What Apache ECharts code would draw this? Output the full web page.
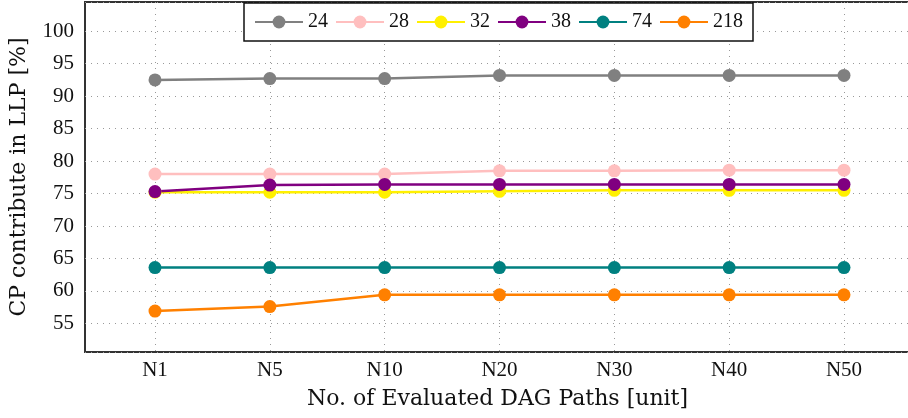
<!DOCTYPE html>
<html>
<head>
<meta charset="utf-8">
<script src="https://cdn.jsdelivr.net/npm/echarts@6/dist/echarts.min.js"></script>
<style>
  html, body { margin: 0; padding: 0; background: #fff; }
  #main { width: 908px; height: 418px; }
</style>
</head>
<body>
<div id="main"></div>
<script>
// x categories and series
const paths = ['N1', 'N5', 'N10', 'N20', 'N30', 'N40', 'N50'];
const seriesNames = ['24', '28', '32', '38', '74', '218'];
const colors = ['#808080', '#ffbfbf', '#fff000', '#800080', '#008080', '#ff8000'];
const s24 = [92.5, 92.7, 92.7, 93.2, 93.2, 93.2, 93.2];
const s28 = [78.0, 78.0, 78.0, 78.5, 78.5, 78.6, 78.6];
const s32 = [75.2, 75.2, 75.2, 75.35, 75.5, 75.5, 75.5];
const s38 = [75.3, 76.3, 76.4, 76.4, 76.4, 76.4, 76.4];
const s74 = [63.6, 63.6, 63.6, 63.6, 63.6, 63.6, 63.6];
const s218 = [56.9, 57.6, 59.4, 59.4, 59.4, 59.4, 59.4];
const values = [s24, s28, s32, s38, s74, s218];

const font = 'Liberation Serif';
const nameFont = 'DejaVu Serif';
const yMin = 50.6, yMax = 104.5;
const dotted = { type: [1, 5], color: '#999', width: 1 };
const chart = echarts.init(document.getElementById('main'));

const option = {
  animation: false,
  textStyle: { fontFamily: font },
  grid: [
    // frame grid: y axis, horizontal dotted lines and border
    { left: 85, right: -2, top: 2, bottom: 66, show: true, borderColor: '#333', borderWidth: 2,
      containLabel: false, outerBoundsMode: 'none' },
    // data grid: inset so the categories sit where they do in the picture
    { left: 155, right: 64, top: 2, bottom: 66, containLabel: false, outerBoundsMode: 'none' }
  ],
  legend: {
    data: seriesNames,
    left: 244, top: 3,
    padding: [9, 10, 9, 10],
    itemGap: 7,
    itemWidth: 48, itemHeight: 16,
    borderColor: '#111', borderWidth: 1.5,
    backgroundColor: '#fff',
    textStyle: { fontFamily: font, fontSize: 20, color: '#111' }
  },
  xAxis: [
    {
      gridIndex: 0, type: 'value', min: 0, max: 1,
      name: 'No. of Evaluated DAG Paths [unit]', nameLocation: 'middle', nameGap: 36,
      nameTextStyle: { fontFamily: nameFont, fontSize: 22, color: '#111' },
      axisLine: { show: false }, axisTick: { show: false },
      axisLabel: { show: false }, splitLine: { show: false }
    },
    {
      gridIndex: 1, type: 'category', data: paths, boundaryGap: false,
      axisLine: { show: false }, axisTick: { show: false },
      axisLabel: { fontFamily: font, fontSize: 21, color: '#111', margin: 8 },
      splitLine: { show: true, lineStyle: dotted }
    }
  ],
  yAxis: [
    {
      gridIndex: 0, type: 'value', min: yMin, max: yMax, splitNumber: 10,
      name: 'CP contribute in LLP [%]', nameLocation: 'middle', nameGap: 55,
      nameTextStyle: { fontFamily: nameFont, fontSize: 22, color: '#111' },
      axisLine: { show: false }, axisTick: { show: false },
      axisLabel: {
        fontFamily: font, fontSize: 21, color: '#111', margin: 11,
        formatter: v => (v < 55 || v > 100) ? '' : String(v)
      },
      splitLine: { show: true, lineStyle: dotted }
    },
    { gridIndex: 1, type: 'value', min: yMin, max: yMax, show: false, splitLine: { show: false } }
  ],
  series: seriesNames.map((name, i) => ({
    name: name,
    type: 'line',
    xAxisIndex: 1, yAxisIndex: 1,
    data: values[i],
    symbol: 'circle',
    symbolSize: 13,
    color: colors[i],
    lineStyle: { width: 2.5, color: colors[i] },
    itemStyle: { color: colors[i] }
  }))
};

chart.setOption(option);
</script>
</body>
</html>
